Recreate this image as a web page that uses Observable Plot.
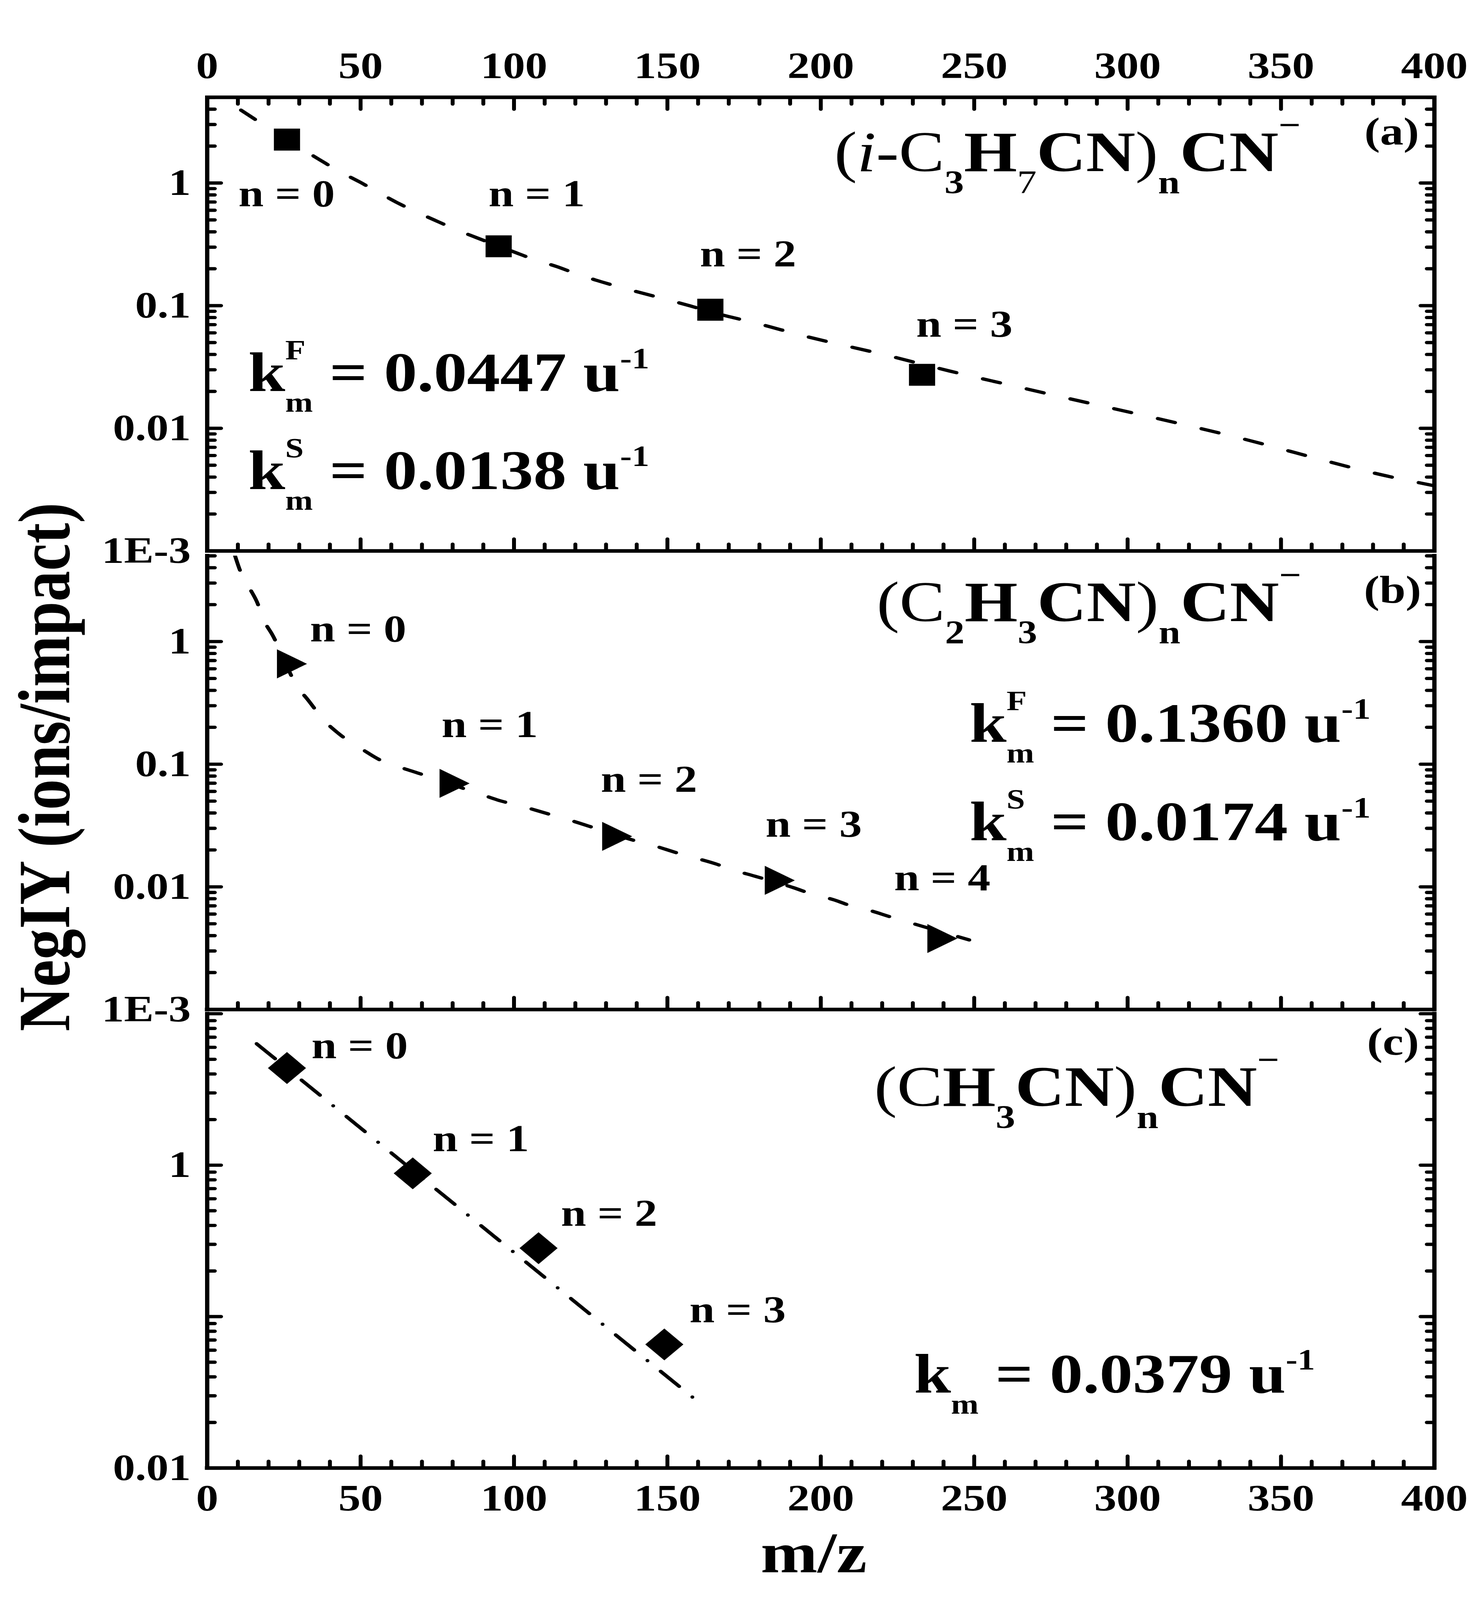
<!DOCTYPE html>
<html><head><meta charset="utf-8">
<script src="https://cdn.jsdelivr.net/npm/d3@7"></script>
<script src="https://cdn.jsdelivr.net/npm/@observablehq/plot@0.6"></script>
<style>
html,body{margin:0;padding:0;background:#fff;overflow:hidden;}
#fig{position:relative;width:3779px;height:4892px;overflow:hidden;background:#fff;transform-origin:0 0;}
#fig svg{position:absolute;left:0;}
</style></head><body><div id="fig"></div>
<script>
// ---------------- data ----------------
// panel (a) (i-C3H7CN)nCN-
const mzA = [26, 95, 164, 233];
const yieldA = [2.26, 0.305, 0.0927, 0.0273];
const fitAmz = [11.0, 17.0, 37.0, 42.4, 49.7, 55.4, 62.5, 67.9, 75.5, 80.9, 88.1, 101.2, 106.7, 114.0, 119.3, 157.5, 167.9, 178.3, 183.4, 190.7, 221.8, 242.0, 268.0, 331.5, 388.6, 400];
const fitAy = [3.93, 3.14, 1.53, 1.27, 1.02, 0.85, 0.68, 0.586, 0.481, 0.419, 0.356, 0.267, 0.237, 0.208, 0.186, 0.0994, 0.084, 0.0727, 0.0673, 0.060, 0.0392, 0.0293, 0.0207, 0.00896, 0.00388, 0.0034];
const labAx = [10.2, 91.7, 160.6, 231.1];
const labAy = [0.646, 0.646, 0.2087, 0.0557];
// panel (b) (C2H3CN)nCN-
const mzB = [26, 79, 132, 185, 238];
const yieldB = [0.658, 0.0698, 0.0258, 0.0113, 0.00379];
const fitBmz = [9.06, 10.5, 13.4, 16.2, 18.6, 21.2, 29.5, 32.9, 38.2, 42.7, 51.0, 55.8, 63.6, 68.5, 88.7, 95.9, 101.6, 107.0, 114.3, 119.8, 127.3, 140.2, 145.5, 152.9, 158.3, 165.7, 171.1, 178.6, 191.5, 197.0, 204.4, 209.5, 216.7, 222.5, 229.7, 248.4];
const fitBy = [5.02, 3.92, 2.84, 2.11, 1.47, 1.14, 0.425, 0.333, 0.226, 0.179, 0.130, 0.110, 0.0932, 0.085, 0.0574, 0.050, 0.0462, 0.0422, 0.0373, 0.034, 0.0296, 0.0235, 0.0217, 0.019, 0.0174, 0.0154, 0.0138, 0.0122, 0.00977, 0.00875, 0.00782, 0.00705, 0.00634, 0.00571, 0.00505, 0.00369];
const labBx = [33.5, 76.4, 128.3, 182.0, 223.9];
const labBy = [1.0, 0.166, 0.0595, 0.0256, 0.00935];
// panel (c) (CH3CN)nCN-
const mzC = [26, 67, 108, 149];
const yieldC = [4.38, 0.883, 0.283, 0.0655];
const fitCmz = [16.1, 158.7];
const fitCy = [6.34, 0.0288];
const labCx = [34.0, 73.5, 115.3, 157.2];
const labCy = [5.08, 1.238, 0.398, 0.0918];
// ticks
const xMajor = [0, 50, 100, 150, 200, 250, 300, 350, 400];
const xMinor = [10, 20, 30, 40, 60, 70, 80, 90, 110, 120, 130, 140, 160, 170, 180, 190, 210, 220, 230, 240, 260, 270, 280, 290, 310, 320, 330, 340, 360, 370, 380, 390];
const yMajorAB = [0.001, 0.01, 0.1, 1];
const yMajorC = [0.01, 0.1, 1, 10];
const yLabelC = [0.01, 1];
const domAB = [0.001, 5];
const domC = [0.01, 10];

// ---------------- helpers ----------------
const FONT = "Liberation Serif";
const tbl = (xs, ys, extra) => xs.map((x, i) => ({x, y: ys[i], ...(extra ? extra(i) : {})}));
const ctx = document.createElement("canvas").getContext("2d");
function tw(t, size, weight, style) {
  ctx.font = `${style || "normal"} ${weight || "bold"} ${size}px "${FONT}"`;
  return ctx.measureText(t).width;
}
function rich(x, y, segs) {
  const marks = []; let dx = 0;
  for (const s of segs) {
    const parts = s.stack ? s.stack : [s];
    let adv = 0;
    for (const p of parts) {
      marks.push(Plot.text([{x, y}], {x: "x", y: "y", text: () => p.t, dx, dy: -(p.shift || 0),
        textAnchor: "start", lineAnchor: "bottom", fontSize: p.size, fontWeight: p.weight || "bold",
        fontStyle: p.style || "normal", fontFamily: FONT, fill: "black"}));
      adv = Math.max(adv, tw(p.t, p.size, p.weight, p.style));
    }
    dx += adv;
  }
  return marks;
}
const M = 175, S = 100, K = 170, s = 85;
function kLabel(x, y, sup, val) {
  return rich(x, y, [{t: "k", size: K},
    sup ? {stack: [{t: sup, size: s, shift: 97}, {t: "m", size: s, shift: -63}]} : {t: "m", size: s, shift: -65},
    {t: " = " + val + " u", size: K}, {t: "-1", size: 90, shift: 70}]);
}
const TICK = {stroke: "black", strokeWidth: 10, strokeLinecap: "round", fontSize: 114, fontFamily: FONT, fontWeight: "bold", fill: "black", label: null};
function xTicks(anchor, labels) {
  const sg = anchor === "top" ? 1 : -1;
  const m = [
    Plot.axisX({anchor, ticks: xMajor, tickSize: 36, dy: sg * 36, tickFormat: () => "", ...TICK}),
    Plot.axisX({anchor, ticks: xMinor, tickSize: 20, dy: sg * 20, tickFormat: () => "", ...TICK})
  ];
  if (labels) m.push(Plot.axisX({anchor, ticks: xMajor, tickSize: 0, tickPadding: anchor === "top" ? 59 : 49, tickFormat: d => String(d), ...TICK}));
  return m;
}
function minorsOf(dom) {
  return d3.scaleLog().domain(dom).ticks().filter(v => Math.abs(Math.log10(v) - Math.round(Math.log10(v))) > 1e-6);
}
const fmtY = d => Math.abs(d - 0.001) < 1e-9 ? "1E-3" : String(d);
function yTicks(anchor, major, dom, labeled) {
  const sg = anchor === "left" ? 1 : -1;
  const m = [
    Plot.axisY({anchor, ticks: major, tickSize: 36, dx: sg * 36, tickFormat: () => "", ...TICK}),
    Plot.axisY({anchor, ticks: minorsOf(dom), tickSize: 20, dx: sg * 20, tickFormat: () => "", ...TICK})
  ];
  if (labeled) m.push(Plot.axisY({anchor, ticks: labeled, tickSize: 0, tickPadding: 42, tickFormat: fmtY, ...TICK}));
  return m;
}
const triRight = {draw(c, size) {
  const side = Math.sqrt(4 * size / Math.sqrt(3)), h = side * Math.sqrt(3) / 2;
  c.moveTo(2 * h / 3, 0); c.lineTo(-h / 3, -side / 2); c.lineTo(-h / 3, side / 2); c.closePath();
}};
const diamond = {draw(c, size) {
  const d = Math.sqrt(size / 2);
  c.moveTo(0, -d); c.lineTo(d, 0); c.lineTo(0, d); c.lineTo(-d, 0); c.closePath();
}};
const nLabels = (xs, ys) => Plot.text(tbl(xs, ys, i => ({t: "n = " + i})), {x: "x", y: "y", text: "t",
  textAnchor: "start", lineAnchor: "bottom", fontSize: 116, fontWeight: "bold", fontFamily: FONT});
const letter = (x, y, t) => Plot.text([{x, y}], {x: "x", y: "y", text: () => t, textAnchor: "end", lineAnchor: "bottom", fontSize: 120, fontWeight: "bold", fontFamily: FONT});
const svgStyle = {fontFamily: FONT, fontWeight: "bold", background: "none", overflow: "visible"};
const W = 3779, ML = 530, MR = 107;
const lineOpt = {x: "x", y: "y", stroke: "black", strokeWidth: 10, strokeLinecap: "round", clip: true};

// ---------------- panel (a) ----------------
const pa = Plot.plot({
  width: W, height: 1704, marginLeft: ML, marginRight: MR, marginTop: 297, marginBottom: 20,
  style: svgStyle, x: {domain: [0, 400]}, y: {type: "log", domain: domAB},
  marks: [
    Plot.line(tbl(fitAmz, fitAy), {...lineOpt, strokeDasharray: "46,70", curve: "monotone-x"}),
    Plot.dot(tbl(mzA, yieldA), {x: "x", y: "y", symbol: "square", r: 37.8, fill: "black", stroke: "none"}),
    nLabels(labAx, labAy),
    letter(395.0, 2.065, "(a)"),
    ...rich(204.4, 1.248, [{t: "(", size: M, weight: "normal"}, {t: "i", size: M, weight: "normal", style: "italic"},
      {t: "-C", size: M, weight: "normal"}, {t: "3", size: S, shift: -68}, {t: "H", size: M},
      {t: "7", size: S, weight: "normal", shift: -68}, {t: "CN", size: M}, {t: ")", size: M, weight: "normal"},
      {t: "n", size: S, shift: -68}, {t: "CN", size: M}, {t: "\u2212", size: S, shift: 108}]),
    ...kLabel(13.4, 0.0201, "F", "0.0447"),
    ...kLabel(13.4, 0.0032, "S", "0.0138"),
    Plot.frame({stroke: "black", strokeWidth: 11}),
    ...xTicks("top", true), ...xTicks("bottom", false),
    ...yTicks("left", yMajorAB, domAB, yMajorAB), ...yTicks("right", yMajorAB, domAB, null)
  ]
});
pa.style.top = "0px";

// ---------------- panel (b) ----------------
const pb = Plot.plot({
  width: W, height: 1427, marginLeft: ML, marginRight: MR, marginTop: 20, marginBottom: 20,
  style: svgStyle, x: {domain: [0, 400]}, y: {type: "log", domain: domAB},
  marks: [
    Plot.line(tbl(fitBmz, fitBy), {...lineOpt, strokeDasharray: "46,70", curve: "monotone-x"}),
    Plot.dot(tbl(mzB, yieldB), {x: "x", y: "y", symbol: triRight, r: 33, fill: "black", stroke: "none"}),
    nLabels(labBx, labBy),
    letter(395.7, 2.08, "(b)"),
    ...rich(218.2, 1.464, [{t: "(", size: M, weight: "normal"}, {t: "C", size: M, weight: "normal"},
      {t: "2", size: S, shift: -68}, {t: "H", size: M}, {t: "3", size: S, shift: -68}, {t: "CN", size: M},
      {t: ")", size: M, weight: "normal"}, {t: "n", size: S, shift: -68}, {t: "CN", size: M}, {t: "\u2212", size: S, shift: 108}]),
    ...kLabel(248.5, 0.1524, "F", "0.1360"),
    ...kLabel(248.5, 0.02394, "S", "0.0174"),
    Plot.text([0], {frameAnchor: "left", text: () => "NegIY (ions/impact)", rotate: -90, dx: -354, dy: -48,
      textAnchor: "middle", lineAnchor: "bottom", fontSize: 188, fontWeight: "bold", fontFamily: FONT}),
    Plot.ruleX([0, 400], {stroke: "black", strokeWidth: 11, strokeLinecap: "square"}),
    Plot.ruleY([domAB[0]], {stroke: "black", strokeWidth: 11, strokeLinecap: "square"}),
    ...xTicks("bottom", false),
    ...yTicks("left", yMajorAB, domAB, yMajorAB), ...yTicks("right", yMajorAB, domAB, null)
  ]
});
pb.style.top = "1679px";

// ---------------- panel (c) ----------------
const pc = Plot.plot({
  width: W, height: 1813, marginLeft: ML, marginRight: MR, marginTop: 20, marginBottom: 404,
  style: svgStyle, x: {domain: [0, 400]}, y: {type: "log", domain: domC},
  marks: [
    Plot.line(tbl(fitCmz, fitCy), {...lineOpt, strokeDasharray: "66,47,0,47"}),
    Plot.dot(tbl(mzC, yieldC), {x: "x", y: "y", symbol: diamond, r: 38.9, fill: "black", stroke: "none"}),
    nLabels(labCx, labCy),
    letter(395.0, 5.35, "(c)"),
    ...rich(217.4, 2.46, [{t: "(", size: M, weight: "normal"}, {t: "C", size: M, weight: "normal"},
      {t: "H", size: M}, {t: "3", size: S, shift: -68}, {t: "CN", size: M},
      {t: ")", size: M, weight: "normal"}, {t: "n", size: S, shift: -68}, {t: "CN", size: M}, {t: "\u2212", size: S, shift: 108}]),
    ...kLabel(230.4, 0.0315, null, "0.0379"),
    Plot.text([0], {frameAnchor: "bottom", text: () => "m/z", dx: -18, dy: 319, textAnchor: "middle",
      lineAnchor: "bottom", fontSize: 175, fontWeight: "bold", fontFamily: FONT}),
    Plot.ruleX([0, 400], {stroke: "black", strokeWidth: 11, strokeLinecap: "square"}),
    Plot.ruleY([domC[0]], {stroke: "black", strokeWidth: 11, strokeLinecap: "square"}),
    ...xTicks("bottom", true),
    ...yTicks("left", yMajorC, domC, yLabelC), ...yTicks("right", yMajorC, domC, null)
  ]
});
pc.style.top = "3079px";

const fig = document.getElementById("fig");
fig.append(pa, pb, pc);
// the photographed window can be shorter than the 3779x4892 figure: fit the whole figure into it
const sx = Math.min(1, innerWidth / 3779), sy = Math.min(1, innerHeight / 4892);
if (sx < 1 || sy < 1) fig.style.transform = `scale(${sx}, ${sy})`;
</script>
</body></html>
